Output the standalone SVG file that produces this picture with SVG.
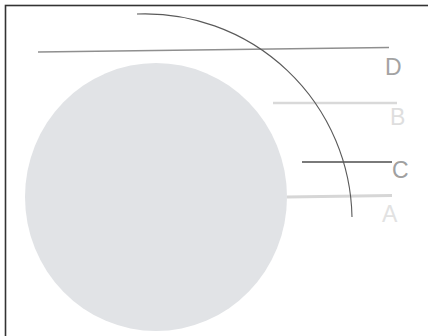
<svg xmlns="http://www.w3.org/2000/svg" width="428" height="336" viewBox="0 0 428 336">
<style>
.lbl{font-family:"Liberation Sans",Arial,sans-serif;font-size:23px}
</style>
<rect x="0" y="0" width="428" height="336" fill="#ffffff"/>
<rect x="5.5" y="5.5" width="440" height="350" fill="none" stroke="#333333" stroke-width="1.6"/>
<g id="sphere">
<ellipse cx="156" cy="197" rx="131" ry="134" fill="#e1e3e6"/>
</g>
<g id="connectors">
<line x1="38" y1="52" x2="389" y2="47.5" stroke="#8f8f8f" stroke-width="1.6"/>
<line x1="273" y1="103" x2="397" y2="103" stroke="#d9d9d9" stroke-width="2.5"/>
<line x1="302" y1="162" x2="392" y2="162" stroke="#7a7a7a" stroke-width="2"/>
<line x1="287" y1="197" x2="392" y2="195.5" stroke="#d6d6d6" stroke-width="3"/>
<path d="M137,14 A207,207 0 0 1 352,217" fill="none" stroke="#5a5a5a" stroke-width="1.1"/>
</g>
<g id="label-D"><text class="lbl" x="385" y="75" fill="#a3a3a3">D</text></g>
<g id="label-B"><text class="lbl" x="390" y="125" fill="#dedede">B</text></g>
<g id="label-C"><text class="lbl" x="392" y="178" fill="#a0a0a0">C</text></g>
<g id="label-A"><text class="lbl" x="382" y="222" fill="#e2e2e2">A</text></g>
</svg>
